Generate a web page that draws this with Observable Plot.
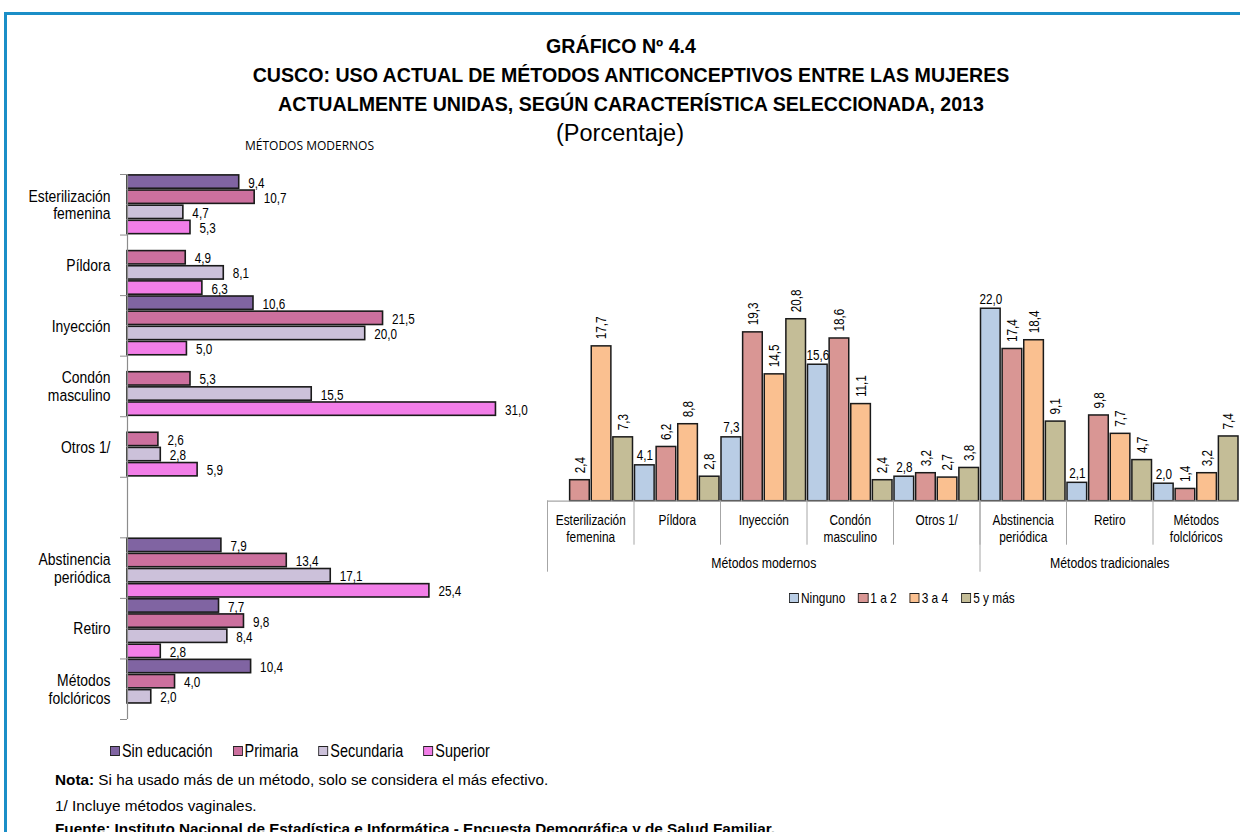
<!DOCTYPE html>
<html>
<head>
<meta charset="utf-8">
<script src="https://cdn.jsdelivr.net/npm/d3@7"></script>
<script src="https://cdn.jsdelivr.net/npm/@observablehq/plot@0.6"></script>
<style>
  html { overflow: hidden; }
  html, body { margin: 0; padding: 0; background: #fff; }
  body { width: 1240px; height: 832px; overflow: hidden; position: relative; color: #000;
         font-family: "Liberation Sans", Arial, sans-serif; }
  .bar { position: absolute; background: #1b8ec7; }
  .abs { position: absolute; white-space: nowrap; }
  .vc { transform: translateY(-50%); }
  .title { text-align: center; font-weight: bold; font-size: 19.6px; }
  .legend { display: flex; align-items: center; transform-origin: left center; }
  .legend .item { display: flex; align-items: center; }
  .legend .sw { border: 1px solid #222; box-sizing: border-box; }
  .note { left: 55px; font-size: 15.3px; }
  #left, #right { position: absolute; }
</style>
</head>
<body>
<div class="bar" style="left:4px;top:12px;width:1240px;height:3px"></div>
<div class="bar" style="left:4px;top:12px;width:3px;height:830px"></div>
<div id="left" style="left:0;top:0"></div>
<div id="right" style="left:540px;top:250px"></div>

<div class="abs vc title" style="top:46px;left:0;width:1242px">GRÁFICO Nº 4.4</div>
<div class="abs vc title" style="top:75px;left:0;width:1262px">CUSCO: USO ACTUAL DE MÉTODOS ANTICONCEPTIVOS ENTRE LAS MUJERES</div>
<div class="abs vc title" style="top:104px;left:0;width:1262px">ACTUALMENTE UNIDAS, SEGÚN CARACTERÍSTICA SELECCIONADA, 2013</div>
<div class="abs vc" style="top:133px;left:0;width:1240px;text-align:center;font-size:23.5px">(Porcentaje)</div>
<div class="abs vc" style="top:145px;left:245px;font-family:'Open Sans',sans-serif;font-size:12px">MÉTODOS MODERNOS</div>

<div id="legendLeft" class="abs legend" style="top:741px;left:110px;height:20px;font-size:17.6px"></div>
<div id="legendRight" class="abs legend" style="top:589px;left:789px;height:18px;font-size:14.5px"></div>

<div class="abs vc note" style="top:780px"><b>Nota:</b> Si ha usado más de un método, solo se considera el más efectivo.</div>
<div class="abs vc note" style="top:806px">1/ Incluye métodos vaginales.</div>
<div class="abs vc note" style="top:829px"><b>Fuente: Instituto Nacional de Estadística e Informática - Encuesta Demográfica y de Salud Familiar.</b></div>

<script>
// ---------- DATA ----------
const categories = ["Esterilización\nfemenina", "Píldora", "Inyección", "Condón\nmasculino", "Otros 1/",
                    "Abstinencia\nperiódica", "Retiro", "Métodos\nfolclóricos"];
const groupLabels = ["Métodos modernos", "Métodos tradicionales"];
const groupSizes = [5, 3];

// Left chart: by education level
const educationLevels = ["Sin educación", "Primaria", "Secundaria", "Superior"];
const sinEducacion = [9.4, null, 10.6, null, null, 7.9, 7.7, 10.4];
const primaria     = [10.7, 4.9, 21.5, 5.3, 2.6, 13.4, 9.8, 4.0];
const secundaria   = [4.7, 8.1, 20.0, 15.5, 2.8, 17.1, 8.4, 2.0];
const superior     = [5.3, 6.3, 5.0, 31.0, 5.9, 25.4, 2.8, null];
const educationColors = ["#8064a2", "#cc709e", "#ccc1da", "#f27ee8"];

// Right chart: by number of living children
const childrenGroups = ["Ninguno", "1 a 2", "3 a 4", "5 y más"];
const ninguno    = [null, 4.1, 7.3, 15.6, 2.8, 22.0, 2.1, 2.0];
const unoDos     = [2.4, 6.2, 19.3, 18.6, 3.2, 17.4, 9.8, 1.4];
const tresCuatro = [17.7, 8.8, 14.5, 11.1, 2.7, 18.4, 7.7, 3.2];
const cincoMas   = [7.3, 2.8, 20.8, 2.4, 3.8, 9.1, 4.7, 7.4];
const childrenColors = ["#b9cde5", "#d99694", "#fac090", "#c4bd97"];

// ---------- HELPERS ----------
const fmt = v => d3.format(".1f")(v).replace(".", ",");
const FONT = '"Liberation Sans",Arial,sans-serif';
const NARROW = 0.82;   // horizontal condensing to imitate Arial Narrow
const condense = svg => {
  d3.select(svg).selectAll("text").each(function () {
    const t = this.getAttribute("transform") || "";
    this.setAttribute("transform", t + ` scale(${NARROW},1)`);
  });
  return svg;
};
const nCat = categories.length;
const slotOf = i => i + (i >= groupSizes[0] ? 1 : 0);   // empty slot between groups (left chart)
const nSlots = nCat + 1;

// ---------- LEFT CHART ----------
const leftSeries = [sinEducacion, primaria, secundaria, superior];
const leftRows = [];
educationLevels.forEach((s, j) => leftSeries[j].forEach((v, i) => {
  if (v != null) leftRows.push({i, slot: slotOf(i), j, series: s, value: v});
}));
const leftLabels = categories.map((c, i) => ({c, slot: slotOf(i)}));

const leftPlot = Plot.plot({
  width: 545, height: 730,
  marginLeft: 127, marginTop: 174, marginBottom: 11, marginRight: 2,
  style: {fontFamily: FONT, background: "transparent", overflow: "visible"},
  x: {domain: [0, 35], axis: null},
  y: {domain: [0, nSlots], reverse: true},
  color: {domain: educationLevels, range: educationColors},
  marks: [
    Plot.rect(leftRows, {
      x1: 0, x2: "value",
      y1: d => d.slot + d.j / 4, y2: d => d.slot + (d.j + 1) / 4,
      insetTop: 0.9, insetBottom: 0.9,
      fill: "series", stroke: "#1a1a1a", strokeWidth: 1.6
    }),
    Plot.text(leftRows, {
      x: "value", y: d => d.slot + (d.j + 0.5) / 4, text: d => fmt(d.value),
      dx: 9, dy: 1, textAnchor: "start", fontSize: 14.3
    }),
    Plot.ruleX([0], {stroke: "#8c8c8c", strokeWidth: 1.2}),
    Plot.axisY(d3.range(nSlots + 1), {tickSize: 7, tickFormat: () => "", stroke: "#8c8c8c"}),
    Plot.text(leftLabels, {
      x: 0, y: d => d.slot + 0.5, text: "c", dx: -17, textAnchor: "end",
      fontSize: 17, lineHeight: 1.05
    })
  ]
});
document.getElementById("left").appendChild(condense(leftPlot));

// ---------- RIGHT CHART ----------
const rightSeries = [ninguno, unoDos, tresCuatro, cincoMas];
const rightRows = [];
childrenGroups.forEach((s, j) => rightSeries[j].forEach((v, i) => {
  if (v != null) rightRows.push({i, j, series: s, value: v});
}));
const bounds = d3.cumsum([0, ...groupSizes]);          // [0,5,8]
const groupCenters = groupSizes.map((g, k) => bounds[k] + g / 2);

const rightPlot = Plot.plot({
  width: 700, height: 380,
  marginLeft: 7, marginRight: 1, marginTop: 32, marginBottom: 129.3,
  style: {fontFamily: FONT, background: "transparent", overflow: "visible"},
  x: {domain: [0, nCat]},
  y: {domain: [0, 25], axis: null},
  color: {domain: childrenGroups, range: childrenColors},
  marks: [
    Plot.rect(rightRows, {
      x1: d => d.i + d.j / 4, x2: d => d.i + (d.j + 1) / 4,
      y1: 0, y2: "value",
      insetLeft: 1, insetRight: 1,
      fill: "series", stroke: "#1a1a1a", strokeWidth: 1.5
    }),
    Plot.ruleY([0], {stroke: "#a6a6a6", strokeWidth: 1.2}),
    // horizontal labels (Ninguno)
    Plot.text(rightRows.filter(d => d.j === 0), {
      x: d => d.i + 0.125, y: "value", text: d => fmt(d.value),
      dy: -5, lineAnchor: "bottom", fontSize: 14.3
    }),
    // rotated labels (other series)
    Plot.text(rightRows.filter(d => d.j > 0), {
      x: d => d.i + (d.j + 0.5) / 4, y: "value", text: d => fmt(d.value),
      rotate: -90, textAnchor: "start", dy: -7, fontSize: 14.3
    }),
    Plot.axisX(d3.range(nCat), {tickSize: 44, tickFormat: () => "", stroke: "#a6a6a6"}),
    Plot.axisX(bounds.slice(0, -1), {tickSize: 71, tickFormat: () => "", stroke: "#a6a6a6"}),
    Plot.text(categories, {
      x: (d, i) => i + 0.5, y: 0, text: d => d, dy: 12, lineAnchor: "top",
      fontSize: 14.5, lineHeight: 1.17
    }),
    Plot.text(groupLabels, {
      x: (d, k) => groupCenters[k], y: 0, text: d => d, dy: 62, fontSize: 15
    })
  ]
});
document.getElementById("right").appendChild(condense(rightPlot));

// ---------- LEGENDS ----------
function legend(el, names, colors, gap, sw) {
  el.style.transform = `scaleX(${NARROW})`;
  names.forEach((n, k) => {
    const item = document.createElement("div");
    item.className = "item";
    if (k > 0) item.style.marginLeft = (gap / NARROW) + "px";
    const box = document.createElement("div");
    box.className = "sw";
    box.style.width = (sw / NARROW) + "px";
    box.style.height = sw + "px";
    box.style.marginRight = (2 / NARROW) + "px";
    box.style.background = colors[k];
    const t = document.createElement("span");
    t.textContent = n;
    item.appendChild(box); item.appendChild(t);
    el.appendChild(item);
  });
}
legend(document.getElementById("legendLeft"), educationLevels, educationColors, 20, 10);
legend(document.getElementById("legendRight"), childrenGroups, childrenColors, 13, 10);
</script>
</body>
</html>
